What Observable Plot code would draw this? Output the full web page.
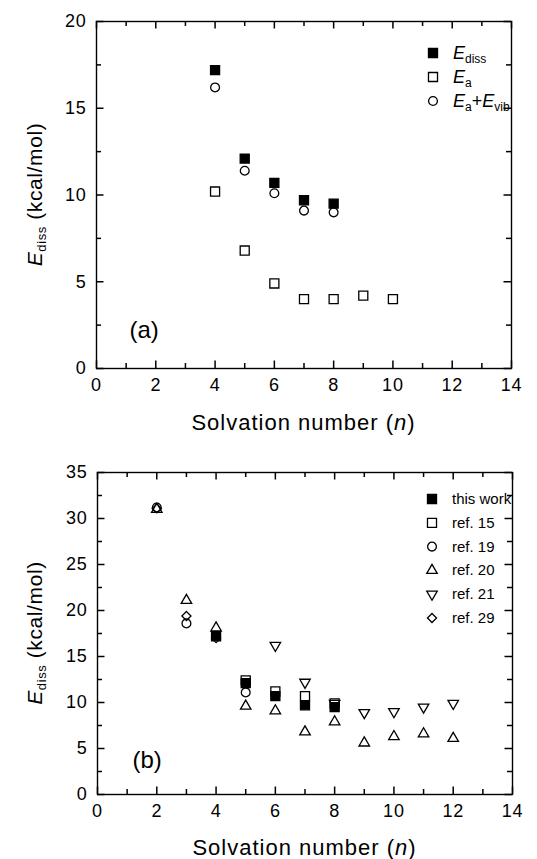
<!DOCTYPE html>
<html>
<head>
<meta charset="utf-8">
<script src="https://cdn.jsdelivr.net/npm/d3@7"></script>
<script src="https://cdn.jsdelivr.net/npm/@observablehq/plot@0.6"></script>
<style>
  body { margin: 0; background: #fff; }
  #wrap { width: 537px; height: 859px; font-family: "Liberation Sans", Arial, sans-serif; }
  #wrap svg { display: block; }
</style>
</head>
<body>
<div id="wrap"></div>
<script>
// ---------- Panel (a) data ----------
const nDissA = [4, 5, 6, 7, 8];
const eDissA = [17.2, 12.1, 10.7, 9.7, 9.5];
const nEa = [4, 5, 6, 7, 8, 9, 10];
const eEa = [10.2, 6.8, 4.9, 4.0, 4.0, 4.2, 4.0];
const nEaVib = [4, 5, 6, 7, 8];
const eEaVib = [16.2, 11.4, 10.1, 9.1, 9.0];

// ---------- Panel (b) data ----------
const nThisWork = [4, 5, 6, 7, 8];
const eThisWork = [17.2, 12.1, 10.7, 9.7, 9.5];
const nRef15 = [5, 6, 7, 8];
const eRef15 = [12.4, 11.2, 10.7, 9.9];
const nRef19 = [2, 3, 5];
const eRef19 = [31.2, 18.6, 11.1];
const nRef20 = [2, 3, 4, 5, 6, 7, 8, 9, 10, 11, 12];
const eRef20 = [31.0, 21.1, 18.1, 9.6, 9.1, 6.8, 7.9, 5.6, 6.3, 6.6, 6.1];
const nRef21 = [6, 7, 8, 9, 10, 11, 12];
const eRef21 = [16.2, 12.2, 9.9, 8.9, 9.0, 9.5, 9.9];
const nRef29 = [2, 3, 4];
const eRef29 = [31.1, 19.4, 17.0];

// ---------- ticks ----------
const xMajor = [0, 2, 4, 6, 8, 10, 12, 14];
const xMinor = [1, 3, 5, 7, 9, 11, 13];
const yMajorA = [0, 5, 10, 15, 20];
const yMinorA = [2.5, 7.5, 12.5, 17.5];
const yMajorB = [0, 5, 10, 15, 20, 25, 30, 35];
const yMinorB = [2.5, 7.5, 12.5, 17.5, 22.5, 27.5, 32.5];

const pts = (ns, es) => ns.map((n, i) => ({n, e: es[i]}));

const downTriangle = {
  draw(context, size) {
    const s3 = Math.sqrt(3);
    const y = Math.sqrt(size / (s3 * 3));
    context.moveTo(0, y * 2);
    context.lineTo(-s3 * y, -y);
    context.lineTo(s3 * y, -y);
    context.closePath();
  }
};
const symbolTypes = {square: d3.symbolSquare, circle: d3.symbolCircle, triangle: d3.symbolTriangle, diamond2: d3.symbolDiamond2, down: downTriangle};

const FONT = '"Liberation Sans", Arial, sans-serif';

function ticks(W, H, xs, ys, len) {
  const sw = 1.5;
  return [
    Plot.tickX(xs, {x: d => d, insetTop: H - len, strokeWidth: sw}),
    Plot.tickX(xs, {x: d => d, insetBottom: H - len, strokeWidth: sw}),
    Plot.tickY(ys, {y: d => d, insetRight: W - len, strokeWidth: sw}),
    Plot.tickY(ys, {y: d => d, insetLeft: W - len, strokeWidth: sw})
  ];
}

function series(data, sym, filled, r) {
  const symbol = sym === "down" ? downTriangle : sym;
  return Plot.dot(data, {x: "n", y: "e", symbol: () => symbol, r,
    fill: filled ? "black" : "none", stroke: "black", strokeWidth: 1.3});
}

function makePanel(cfg) {
  const W = cfg.width - cfg.marginLeft - cfg.marginRight;
  const H = cfg.height - cfg.marginTop - cfg.marginBottom;
  const plot = Plot.plot({
    width: cfg.width, height: cfg.height,
    marginTop: cfg.marginTop, marginBottom: cfg.marginBottom,
    marginLeft: cfg.marginLeft, marginRight: cfg.marginRight,
    style: {fontFamily: FONT, fontSize: "18px", color: "black", background: "white", overflow: "visible"},
    x: {domain: [0, 14]},
    y: {domain: cfg.yDomain},
    symbol: {type: "identity"},
    marks: [
      ...cfg.marks,
      ...ticks(W, H, xMajor, cfg.yMajor, 7.5),
      ...ticks(W, H, xMinor, cfg.yMinor, 5),
      Plot.frame({strokeWidth: 1.4}),
      Plot.axisX(xMajor, {tickSize: 0, tickPadding: 10, fontSize: 18, label: null}),
      Plot.axisY(cfg.yMajor, {tickSize: 0, tickPadding: 10, fontSize: 18, label: null}),
      Plot.text([cfg.tag], {frameAnchor: "bottom-left", dx: cfg.tagDx, dy: cfg.tagDy, textAnchor: "start", lineAnchor: "middle", fontSize: 24})
    ]
  });
  const svg = d3.select(plot);
  svg.selectAll("g[aria-label='x-axis tick label'] text, g[aria-label='y-axis tick label'] text").attr("letter-spacing", "0.8px");
  // x-axis title
  const xt = svg.append("text")
    .attr("x", cfg.marginLeft + W / 2).attr("y", cfg.xTitleY)
    .attr("text-anchor", "middle").attr("font-size", 22).attr("letter-spacing", "1px")
    .attr("font-family", FONT).attr("fill", "black");
  xt.append("tspan").text("Solvation number (");
  xt.append("tspan").attr("font-style", "italic").text("n");
  xt.append("tspan").text(")");
  // y-axis title
  const yt = svg.append("text")
    .attr("transform", `translate(${cfg.yTitleX},${cfg.marginTop + H / 2}) rotate(-90)`)
    .attr("text-anchor", "middle").attr("font-size", 21).attr("letter-spacing", "0.6px")
    .attr("font-family", FONT).attr("fill", "black");
  yt.append("tspan").attr("font-style", "italic").text("E");
  yt.append("tspan").attr("font-size", 13).attr("dy", 4).text("diss");
  yt.append("tspan").attr("dy", -4).text(" (kcal/mol)");
  // legend
  const lg = svg.append("g").attr("font-family", FONT).attr("fill", "black").attr("text-anchor", "start");
  cfg.legend.forEach((item, i) => {
    const y = cfg.legendY + i * cfg.legendStep;
    lg.append("path")
      .attr("transform", `translate(${cfg.legendX},${y})`)
      .attr("d", d3.symbol(symbolTypes[item.sym], Math.PI * item.r * item.r)())
      .attr("fill", item.filled ? "black" : "none").attr("stroke", "black").attr("stroke-width", 1.3);
    const t = lg.append("text").attr("x", cfg.legendX + 20).attr("y", y + cfg.legendBase)
      .attr("font-size", cfg.legendFont).attr("text-anchor", "start");
    item.parts.forEach(p => {
      const ts = t.append("tspan").text(p.t);
      if (p.i) ts.attr("font-style", "italic");
      if (p.sub) ts.attr("font-size", cfg.legendSub).attr("dy", 4);
      if (p.up) ts.attr("dy", -4);
    });
  });
  return plot;
}

const wrap = document.getElementById("wrap");

wrap.appendChild(makePanel({
  width: 537, height: 445, marginTop: 21, marginBottom: 77, marginLeft: 96, marginRight: 26,
  yDomain: [0, 20], yMajor: yMajorA, yMinor: yMinorA,
  tag: "(a)", tagDx: 33, tagDy: -38, xTitleY: 430, yTitleX: 42,
  marks: [
    series(pts(nEa, eEa), "square", false, 5.1),
    series(pts(nEaVib, eEaVib), "circle", false, 4.4),
    series(pts(nDissA, eDissA), "square", true, 5.1)
  ],
  legendX: 433, legendY: 53, legendStep: 24, legendBase: 6, legendFont: 18, legendSub: 12,
  legend: [
    {sym: "square", filled: true, r: 5.1, parts: [{t: "E", i: true}, {t: "diss", sub: true}]},
    {sym: "square", filled: false, r: 5.1, parts: [{t: "E", i: true}, {t: "a", sub: true}]},
    {sym: "circle", filled: false, r: 4.4, parts: [{t: "E", i: true}, {t: "a", sub: true}, {t: "+", up: true}, {t: "E", i: true}, {t: "vib", sub: true}]}
  ]
}));

wrap.appendChild(makePanel({
  width: 537, height: 414, marginTop: 27, marginBottom: 65, marginLeft: 97, marginRight: 25,
  yDomain: [0, 35], yMajor: yMajorB, yMinor: yMinorB,
  tag: "(b)", tagDx: 35, tagDy: -34, xTitleY: 410, yTitleX: 42,
  marks: [
    series(pts(nRef15, eRef15), "square", false, 5.1),
    series(pts(nRef19, eRef19), "circle", false, 4.4),
    series(pts(nRef20, eRef20), "triangle", false, 3.9),
    series(pts(nRef21, eRef21), "down", false, 3.9),
    series(pts(nRef29, eRef29), "diamond2", false, 4.1),
    series(pts(nThisWork, eThisWork), "square", true, 5.1)
  ],
  legendX: 432, legendY: 499 - 445, legendStep: 23.8, legendBase: 5, legendFont: 15, legendSub: 10,
  legend: [
    {sym: "square", filled: true, r: 5.1, parts: [{t: "this work"}]},
    {sym: "square", filled: false, r: 5.1, parts: [{t: "ref. 15"}]},
    {sym: "circle", filled: false, r: 4.4, parts: [{t: "ref. 19"}]},
    {sym: "triangle", filled: false, r: 3.9, parts: [{t: "ref. 20"}]},
    {sym: "down", filled: false, r: 3.9, parts: [{t: "ref. 21"}]},
    {sym: "diamond2", filled: false, r: 4.1, parts: [{t: "ref. 29"}]}
  ]
}));
</script>
</body>
</html>
